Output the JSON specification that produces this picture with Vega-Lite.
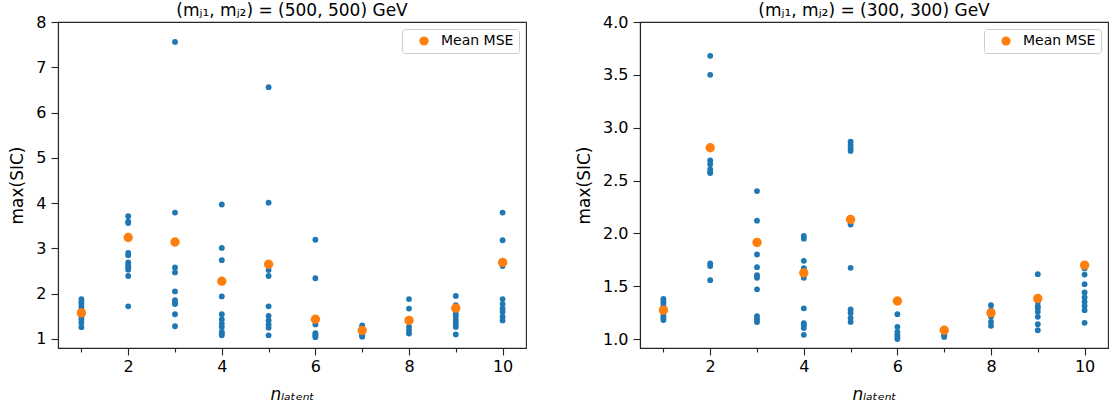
{
  "$schema": "https://vega.github.io/schema/vega-lite/v6.json",
  "padding": {"left": 7, "top": 1, "right": 0, "bottom": 0},
  "config": {
    "font": "DejaVu Sans",
    "view": {"stroke": "#262626", "strokeWidth": 1.1},
    "axis": {
      "grid": false,
      "labelFont": "DejaVu Sans",
      "titleFont": "DejaVu Sans",
      "labelFontSize": 16,
      "titleFontSize": 17,
      "titleFontWeight": "normal",
      "labelColor": "#000000",
      "titleColor": "#000000",
      "domainColor": "#262626",
      "tickColor": "#262626",
      "domainWidth": 1.1,
      "tickWidth": 1.1,
      "tickSize": 7
    },
    "axisX": {"labelPadding": 3, "titlePadding": 12},
    "axisY": {"labelPadding": 5, "titlePadding": 9.5},
    "title": {"font": "DejaVu Sans", "fontSize": 17, "fontWeight": "normal", "color": "#000000", "offset": -6, "baseline": "alphabetic", "anchor": "middle"},
    "legend": {
      "orient": "top-right",
      "offset": 7,
      "padding": 5,
      "strokeColor": "#cccccc",
      "fillColor": "#ffffff",
      "cornerRadius": 3,
      "symbolOffset": 10,
      "labelOffset": 10,
      "labelFont": "DejaVu Sans",
      "labelFontSize": 14,
      "labelColor": "#000000",
      "symbolSize": 85,
      "symbolType": "circle",
      "symbolStrokeWidth": 0
    }
  },
  "datasets": {
    "runs": [
      {"p": "A", "n": 1, "v": 1.88}, {"p": "A", "n": 1, "v": 1.82}, {"p": "A", "n": 1, "v": 1.78}, {"p": "A", "n": 1, "v": 1.71}, {"p": "A", "n": 1, "v": 1.64}, {"p": "A", "n": 1, "v": 1.57}, {"p": "A", "n": 1, "v": 1.5}, {"p": "A", "n": 1, "v": 1.43}, {"p": "A", "n": 1, "v": 1.36}, {"p": "A", "n": 1, "v": 1.26},
      {"p": "A", "n": 2, "v": 3.71}, {"p": "A", "n": 2, "v": 3.59}, {"p": "A", "n": 2, "v": 3.56}, {"p": "A", "n": 2, "v": 2.9}, {"p": "A", "n": 2, "v": 2.85}, {"p": "A", "n": 2, "v": 2.69}, {"p": "A", "n": 2, "v": 2.63}, {"p": "A", "n": 2, "v": 2.58}, {"p": "A", "n": 2, "v": 2.53}, {"p": "A", "n": 2, "v": 2.39}, {"p": "A", "n": 2, "v": 1.72},
      {"p": "A", "n": 3, "v": 7.56}, {"p": "A", "n": 3, "v": 3.79}, {"p": "A", "n": 3, "v": 2.58}, {"p": "A", "n": 3, "v": 2.47}, {"p": "A", "n": 3, "v": 2.05}, {"p": "A", "n": 3, "v": 1.855}, {"p": "A", "n": 3, "v": 1.8}, {"p": "A", "n": 3, "v": 1.77}, {"p": "A", "n": 3, "v": 1.545}, {"p": "A", "n": 3, "v": 1.28},
      {"p": "A", "n": 4, "v": 3.97}, {"p": "A", "n": 4, "v": 3.01}, {"p": "A", "n": 4, "v": 2.74}, {"p": "A", "n": 4, "v": 1.94}, {"p": "A", "n": 4, "v": 1.545}, {"p": "A", "n": 4, "v": 1.43}, {"p": "A", "n": 4, "v": 1.34}, {"p": "A", "n": 4, "v": 1.265}, {"p": "A", "n": 4, "v": 1.155}, {"p": "A", "n": 4, "v": 1.12}, {"p": "A", "n": 4, "v": 1.08},
      {"p": "A", "n": 5, "v": 6.56}, {"p": "A", "n": 5, "v": 4.01}, {"p": "A", "n": 5, "v": 2.52}, {"p": "A", "n": 5, "v": 2.39}, {"p": "A", "n": 5, "v": 1.72}, {"p": "A", "n": 5, "v": 1.51}, {"p": "A", "n": 5, "v": 1.41}, {"p": "A", "n": 5, "v": 1.32}, {"p": "A", "n": 5, "v": 1.25}, {"p": "A", "n": 5, "v": 1.08},
      {"p": "A", "n": 6, "v": 3.19}, {"p": "A", "n": 6, "v": 2.34}, {"p": "A", "n": 6, "v": 1.32}, {"p": "A", "n": 6, "v": 1.13}, {"p": "A", "n": 6, "v": 1.1}, {"p": "A", "n": 6, "v": 1.07}, {"p": "A", "n": 6, "v": 1.04},
      {"p": "A", "n": 7, "v": 1.3}, {"p": "A", "n": 7, "v": 1.25}, {"p": "A", "n": 7, "v": 1.2}, {"p": "A", "n": 7, "v": 1.15}, {"p": "A", "n": 7, "v": 1.1}, {"p": "A", "n": 7, "v": 1.07}, {"p": "A", "n": 7, "v": 1.05},
      {"p": "A", "n": 8, "v": 1.88}, {"p": "A", "n": 8, "v": 1.67}, {"p": "A", "n": 8, "v": 1.43}, {"p": "A", "n": 8, "v": 1.375}, {"p": "A", "n": 8, "v": 1.265}, {"p": "A", "n": 8, "v": 1.19}, {"p": "A", "n": 8, "v": 1.12},
      {"p": "A", "n": 9, "v": 1.95}, {"p": "A", "n": 9, "v": 1.745}, {"p": "A", "n": 9, "v": 1.63}, {"p": "A", "n": 9, "v": 1.56}, {"p": "A", "n": 9, "v": 1.49}, {"p": "A", "n": 9, "v": 1.41}, {"p": "A", "n": 9, "v": 1.34}, {"p": "A", "n": 9, "v": 1.265}, {"p": "A", "n": 9, "v": 1.1},
      {"p": "A", "n": 10, "v": 3.79}, {"p": "A", "n": 10, "v": 3.18}, {"p": "A", "n": 10, "v": 2.61}, {"p": "A", "n": 10, "v": 1.88}, {"p": "A", "n": 10, "v": 1.77}, {"p": "A", "n": 10, "v": 1.67}, {"p": "A", "n": 10, "v": 1.6}, {"p": "A", "n": 10, "v": 1.49}, {"p": "A", "n": 10, "v": 1.41},
      {"p": "B", "n": 1, "v": 1.38}, {"p": "B", "n": 1, "v": 1.36}, {"p": "B", "n": 1, "v": 1.34}, {"p": "B", "n": 1, "v": 1.31}, {"p": "B", "n": 1, "v": 1.28}, {"p": "B", "n": 1, "v": 1.25}, {"p": "B", "n": 1, "v": 1.22}, {"p": "B", "n": 1, "v": 1.2}, {"p": "B", "n": 1, "v": 1.18},
      {"p": "B", "n": 2, "v": 3.68}, {"p": "B", "n": 2, "v": 3.5}, {"p": "B", "n": 2, "v": 2.69}, {"p": "B", "n": 2, "v": 2.655}, {"p": "B", "n": 2, "v": 2.605}, {"p": "B", "n": 2, "v": 2.58}, {"p": "B", "n": 2, "v": 2.57}, {"p": "B", "n": 2, "v": 1.715}, {"p": "B", "n": 2, "v": 1.69}, {"p": "B", "n": 2, "v": 1.557},
      {"p": "B", "n": 3, "v": 2.4}, {"p": "B", "n": 3, "v": 2.12}, {"p": "B", "n": 3, "v": 1.8}, {"p": "B", "n": 3, "v": 1.68}, {"p": "B", "n": 3, "v": 1.604}, {"p": "B", "n": 3, "v": 1.58}, {"p": "B", "n": 3, "v": 1.47}, {"p": "B", "n": 3, "v": 1.216}, {"p": "B", "n": 3, "v": 1.185}, {"p": "B", "n": 3, "v": 1.16},
      {"p": "B", "n": 4, "v": 1.975}, {"p": "B", "n": 4, "v": 1.95}, {"p": "B", "n": 4, "v": 1.74}, {"p": "B", "n": 4, "v": 1.67}, {"p": "B", "n": 4, "v": 1.61}, {"p": "B", "n": 4, "v": 1.58}, {"p": "B", "n": 4, "v": 1.29}, {"p": "B", "n": 4, "v": 1.15}, {"p": "B", "n": 4, "v": 1.13}, {"p": "B", "n": 4, "v": 1.105}, {"p": "B", "n": 4, "v": 1.04},
      {"p": "B", "n": 5, "v": 2.867}, {"p": "B", "n": 5, "v": 2.835}, {"p": "B", "n": 5, "v": 2.804}, {"p": "B", "n": 5, "v": 2.78}, {"p": "B", "n": 5, "v": 2.084}, {"p": "B", "n": 5, "v": 1.674}, {"p": "B", "n": 5, "v": 1.28}, {"p": "B", "n": 5, "v": 1.247}, {"p": "B", "n": 5, "v": 1.2}, {"p": "B", "n": 5, "v": 1.162},
      {"p": "B", "n": 6, "v": 1.235}, {"p": "B", "n": 6, "v": 1.115}, {"p": "B", "n": 6, "v": 1.067}, {"p": "B", "n": 6, "v": 1.042}, {"p": "B", "n": 6, "v": 1.02}, {"p": "B", "n": 6, "v": 1.0},
      {"p": "B", "n": 7, "v": 1.08}, {"p": "B", "n": 7, "v": 1.067}, {"p": "B", "n": 7, "v": 1.05}, {"p": "B", "n": 7, "v": 1.035}, {"p": "B", "n": 7, "v": 1.02},
      {"p": "B", "n": 8, "v": 1.32}, {"p": "B", "n": 8, "v": 1.273}, {"p": "B", "n": 8, "v": 1.21}, {"p": "B", "n": 8, "v": 1.162}, {"p": "B", "n": 8, "v": 1.125},
      {"p": "B", "n": 9, "v": 1.614}, {"p": "B", "n": 9, "v": 1.352}, {"p": "B", "n": 9, "v": 1.31}, {"p": "B", "n": 9, "v": 1.29}, {"p": "B", "n": 9, "v": 1.257}, {"p": "B", "n": 9, "v": 1.21}, {"p": "B", "n": 9, "v": 1.14}, {"p": "B", "n": 9, "v": 1.083},
      {"p": "B", "n": 10, "v": 1.668}, {"p": "B", "n": 10, "v": 1.61}, {"p": "B", "n": 10, "v": 1.519}, {"p": "B", "n": 10, "v": 1.44}, {"p": "B", "n": 10, "v": 1.393}, {"p": "B", "n": 10, "v": 1.352}, {"p": "B", "n": 10, "v": 1.313}, {"p": "B", "n": 10, "v": 1.273}, {"p": "B", "n": 10, "v": 1.153}
    ],
    "means": [
      {"p": "A", "n": 1, "v": 1.575, "s": "Mean MSE"}, {"p": "A", "n": 2, "v": 3.24, "s": "Mean MSE"}, {"p": "A", "n": 3, "v": 3.14, "s": "Mean MSE"}, {"p": "A", "n": 4, "v": 2.275, "s": "Mean MSE"}, {"p": "A", "n": 5, "v": 2.65, "s": "Mean MSE"},
      {"p": "A", "n": 6, "v": 1.435, "s": "Mean MSE"}, {"p": "A", "n": 7, "v": 1.19, "s": "Mean MSE"}, {"p": "A", "n": 8, "v": 1.41, "s": "Mean MSE"}, {"p": "A", "n": 9, "v": 1.68, "s": "Mean MSE"}, {"p": "A", "n": 10, "v": 2.69, "s": "Mean MSE"},
      {"p": "B", "n": 1, "v": 1.273, "s": "Mean MSE"}, {"p": "B", "n": 2, "v": 2.81, "s": "Mean MSE"}, {"p": "B", "n": 3, "v": 1.914, "s": "Mean MSE"}, {"p": "B", "n": 4, "v": 1.626, "s": "Mean MSE"}, {"p": "B", "n": 5, "v": 2.131, "s": "Mean MSE"},
      {"p": "B", "n": 6, "v": 1.36, "s": "Mean MSE"}, {"p": "B", "n": 7, "v": 1.083, "s": "Mean MSE"}, {"p": "B", "n": 8, "v": 1.247, "s": "Mean MSE"}, {"p": "B", "n": 9, "v": 1.383, "s": "Mean MSE"}, {"p": "B", "n": 10, "v": 1.699, "s": "Mean MSE"}
    ]
  },
  "spacing": 114,
  "bounds": "flush",
  "resolve": {"legend": {"color": "independent"}, "scale": {"y": "independent", "x": "independent"}},
  "hconcat": [
    {
      "width": 468,
      "height": 326,
      "title": {"text": "(mⱼ₁, mⱼ₂) = (500, 500) GeV"},
      "layer": [
        {
          "data": {"name": "runs"},
          "transform": [{"filter": "datum.p === 'A'"}],
          "mark": {"type": "point", "filled": true, "shape": "circle", "size": 34, "opacity": 1, "color": "#1f77b4"},
          "encoding": {
            "x": {"field": "n", "type": "quantitative", "scale": {"domain": [0.5, 10.5], "nice": false, "zero": false},
              "axis": {"values": [1, 2, 3, 4, 5, 6, 7, 8, 9, 10], "labelExpr": "datum.value % 2 === 0 ? datum.label : ''",
                "tickSize": {"condition": {"test": "datum.value % 2 === 1", "value": 4}, "value": 7},
                "title": "nₗₐₜₑₙₜ", "titleFontStyle": "italic"}},
            "y": {"field": "v", "type": "quantitative", "scale": {"domain": [0.8, 8.0], "nice": false, "zero": false},
              "axis": {"values": [1, 2, 3, 4, 5, 6, 7, 8], "format": "d", "title": "max(SIC)"}}
          }
        },
        {
          "data": {"name": "means"},
          "transform": [{"filter": "datum.p === 'A'"}],
          "mark": {"type": "point", "filled": true, "shape": "circle", "size": 88, "opacity": 1},
          "encoding": {
            "x": {"field": "n", "type": "quantitative"},
            "y": {"field": "v", "type": "quantitative"},
            "color": {"field": "s", "type": "nominal", "scale": {"domain": ["Mean MSE"], "range": ["#ff7f0e"]}, "legend": {"title": null}}
          }
        }
      ]
    },
    {
      "width": 468,
      "height": 326,
      "title": {"text": "(mⱼ₁, mⱼ₂) = (300, 300) GeV"},
      "layer": [
        {
          "data": {"name": "runs"},
          "transform": [{"filter": "datum.p === 'B'"}],
          "mark": {"type": "point", "filled": true, "shape": "circle", "size": 34, "opacity": 1, "color": "#1f77b4"},
          "encoding": {
            "x": {"field": "n", "type": "quantitative", "scale": {"domain": [0.5, 10.5], "nice": false, "zero": false},
              "axis": {"values": [1, 2, 3, 4, 5, 6, 7, 8, 9, 10], "labelExpr": "datum.value % 2 === 0 ? datum.label : ''",
                "tickSize": {"condition": {"test": "datum.value % 2 === 1", "value": 4}, "value": 7},
                "title": "nₗₐₜₑₙₜ", "titleFontStyle": "italic"}},
            "y": {"field": "v", "type": "quantitative", "scale": {"domain": [0.915, 4.0], "nice": false, "zero": false},
              "axis": {"values": [1, 1.5, 2, 2.5, 3, 3.5, 4], "format": ".1f", "title": "max(SIC)"}}
          }
        },
        {
          "data": {"name": "means"},
          "transform": [{"filter": "datum.p === 'B'"}],
          "mark": {"type": "point", "filled": true, "shape": "circle", "size": 88, "opacity": 1},
          "encoding": {
            "x": {"field": "n", "type": "quantitative"},
            "y": {"field": "v", "type": "quantitative"},
            "color": {"field": "s", "type": "nominal", "scale": {"domain": ["Mean MSE"], "range": ["#ff7f0e"]}, "legend": {"title": null}}
          }
        }
      ]
    }
  ]
}
